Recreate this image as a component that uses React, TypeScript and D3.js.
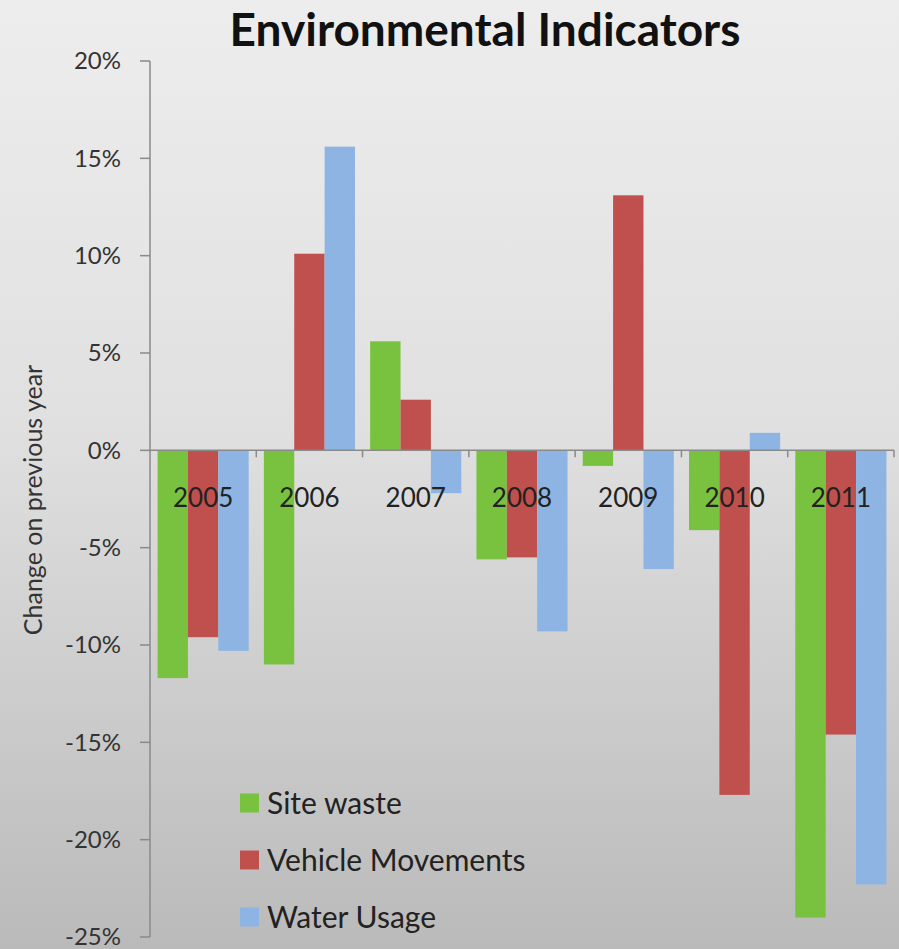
import React from "react";
import * as d3 from "d3";

const years = ["2005", "2006", "2007", "2008", "2009", "2010", "2011"];
const seriesNames = ["Site waste", "Vehicle Movements", "Water Usage"];
const siteWaste = [-11.7, -11.0, 5.6, -5.6, -0.8, -4.1, -24.0];
const vehicleMovements = [-9.6, 10.1, 2.6, -5.5, 13.1, -17.7, -14.6];
const waterUsage = [-10.3, 15.6, -2.2, -9.3, -6.1, 0.9, -22.3];
const yTicks = [20, 15, 10, 5, 0, -5, -10, -15, -20, -25];
const colors = ["#78c23f", "#c0504d", "#8db4e3"];

const W = 899;
const H = 949;
const FONT = "Lato, 'Open Sans', sans-serif";

export default function App() {
  const seriesValues = [siteWaste, vehicleMovements, waterUsage];
  const x0 = d3.scaleBand<string>().domain(years).range([150, 894]).paddingInner(0).paddingOuter(0);
  const x1 = d3.scaleBand<string>().domain(seriesNames).range([0, x0.bandwidth()]).paddingInner(0).paddingOuter(0.25);
  const y = d3.scaleLinear().domain([-25, 20]).range([937, 61]);
  const y0 = y(0);

  return (
    <svg width={W} height={H} style={{ position: "absolute", left: 0, top: 0, display: "block" }}>
      <defs>
        <linearGradient id="bg" x1="0" y1="0" x2="0" y2="1">
          <stop offset="0" stopColor="#ededed" />
          <stop offset="0.45" stopColor="#e0e0e0" />
          <stop offset="1" stopColor="#bababa" />
        </linearGradient>
      </defs>
      <rect x={0} y={0} width={W} height={H} fill="url(#bg)" />

      <text x={485} y={46} textAnchor="middle" fontFamily={FONT} fontWeight="bold" fontSize={46} fill="#111">
        Environmental Indicators
      </text>

      {/* bars */}
      {years.map((yr, i) => (
        <g key={yr} transform={`translate(${x0(yr)},0)`}>
          {seriesNames.map((s, j) => {
            const v = seriesValues[j][i];
            const top = Math.min(y(v), y0);
            const h = Math.abs(y(v) - y0);
            return <rect key={s} x={x1(s)} y={top} width={x1.bandwidth()} height={h} fill={colors[j]} />;
          })}
        </g>
      ))}

      {/* y axis */}
      <line x1={150} x2={150} y1={y(20)} y2={y(-25)} stroke="#8a8a8a" strokeWidth={1.5} />
      {yTicks.map((t) => (
        <g key={t}>
          <line x1={140} x2={150} y1={y(t)} y2={y(t)} stroke="#8a8a8a" strokeWidth={1.5} />
          <text x={121} y={y(t)} dy="0.35em" textAnchor="end" fontFamily={FONT} fontSize={24} fill="#333">
            {`${t}%`}
          </text>
        </g>
      ))}

      {/* x axis */}
      <line x1={150} x2={894} y1={y0} y2={y0} stroke="#8a8a8a" strokeWidth={1.5} />
      {years.map((yr) => (
        <line key={"t" + yr} x1={(x0(yr) as number) + x0.bandwidth()} x2={(x0(yr) as number) + x0.bandwidth()} y1={y0} y2={y0 + 7} stroke="#8a8a8a" strokeWidth={1.5} />
      ))}
      {years.map((yr) => (
        <text key={"l" + yr} x={(x0(yr) as number) + x0.bandwidth() / 2} y={498} dy="0.35em" textAnchor="middle" fontFamily={FONT} fontSize={26} fill="#222">
          {yr}
        </text>
      ))}

      {/* y axis title */}
      <text transform={`translate(42,500) rotate(-90)`} textAnchor="middle" fontFamily={FONT} fontSize={25} fill="#333">
        Change on previous year
      </text>

      {/* legend */}
      {seriesNames.map((s, j) => (
        <g key={s} transform={`translate(240,${803 + j * 57})`}>
          <rect x={0} y={-9.5} width={19} height={19} fill={colors[j]} />
          <text x={27} y={0} dy="0.35em" fontFamily={FONT} fontSize={30} fill="#222">
            {s}
          </text>
        </g>
      ))}
    </svg>
  );
}
